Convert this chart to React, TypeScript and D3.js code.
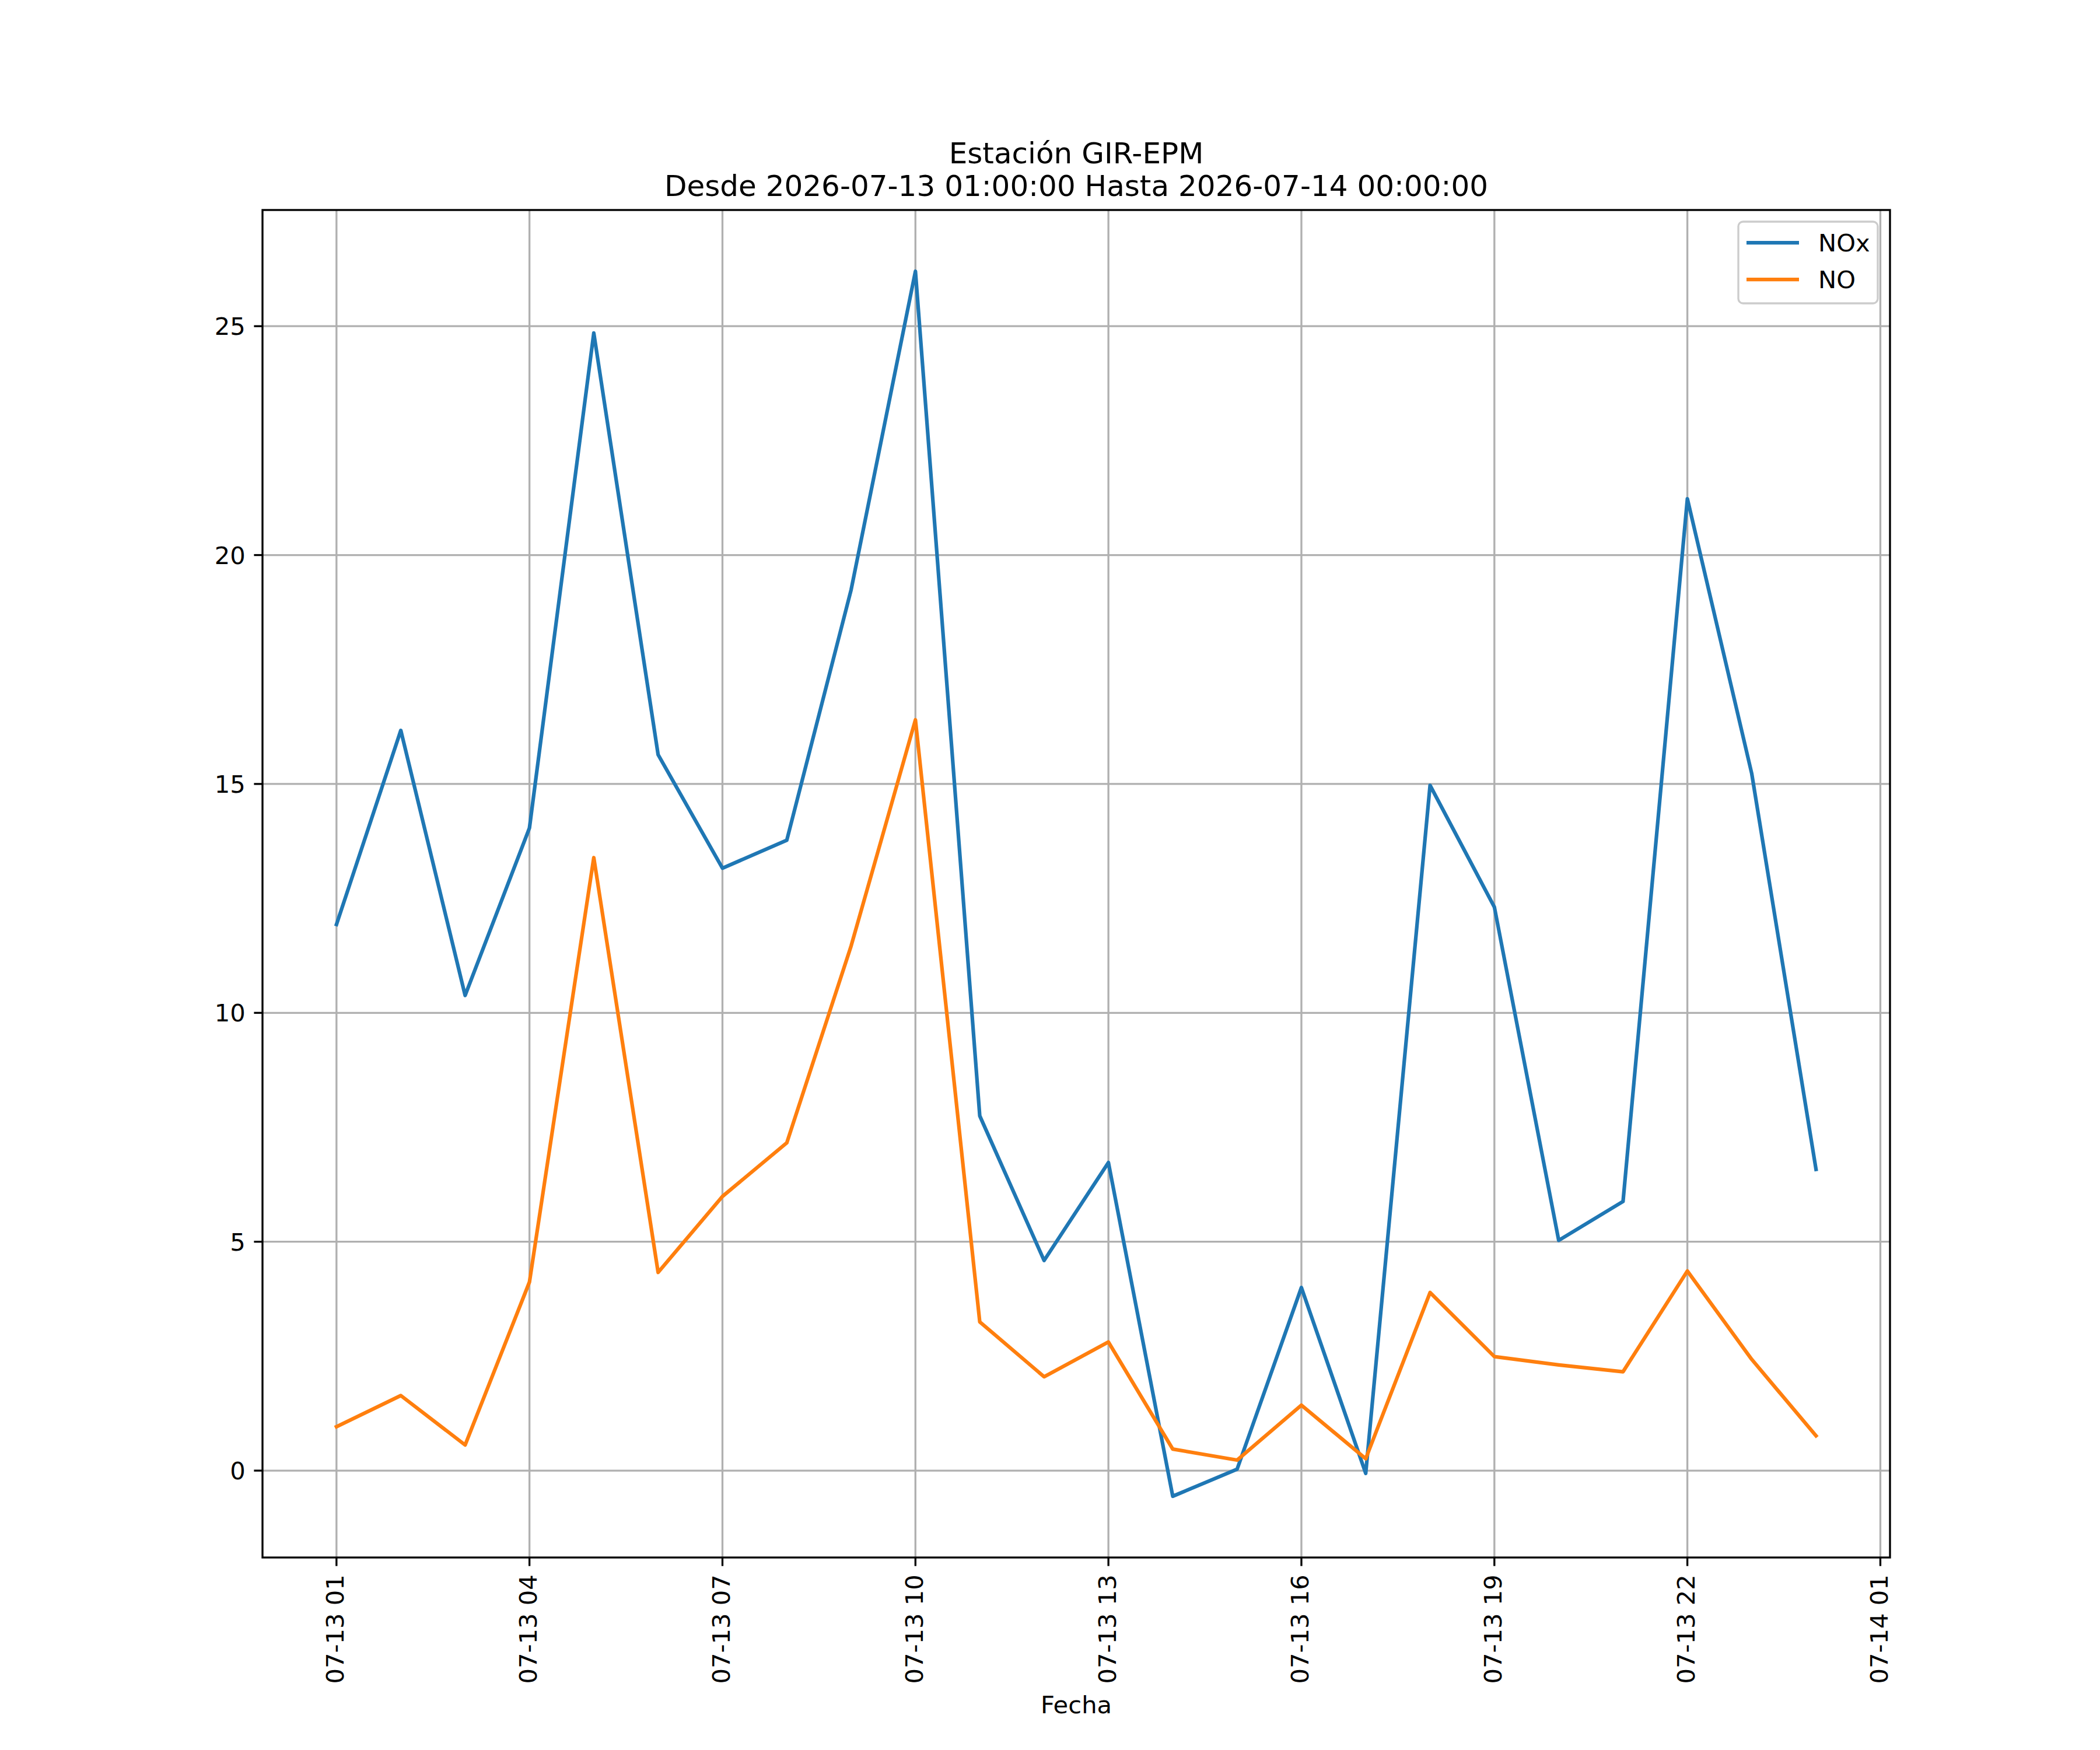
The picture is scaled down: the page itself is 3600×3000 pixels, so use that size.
import React, { useEffect, useRef } from 'react';
import * as d3 from 'd3';

// hourly readings, 2026-07-13 01:00 .. 2026-07-14 00:00
const hours = d3.range(1, 25).map(h => new Date(Date.UTC(2026, 6, 13, h)));
const noxValues = [
  11.93, 16.17, 10.38, 14.04, 24.85, 15.64, 13.16, 13.77, 19.24, 26.2, 7.75, 4.59,
  6.73, -0.56, 0.03, 4.0, -0.06, 14.97, 12.31, 5.03, 5.88, 21.23, 15.23, 6.58,
];
const noValues = [
  0.96, 1.64, 0.56, 4.12, 13.39, 4.33, 5.99, 7.16, 11.46, 16.4, 3.25, 2.05,
  2.81, 0.47, 0.23, 1.43, 0.26, 3.89, 2.49, 2.31, 2.16, 4.36, 2.43, 0.76,
];
const seriesNames = ['NOx', 'NO'];
const seriesColors = ['#1f77b4', '#ff7f0e'];
const yTickValues = [0, 5, 10, 15, 20, 25];
const xTickValues = d3.range(1, 26, 3).map(h => new Date(Date.UTC(2026, 6, 13, h)));
const titleLines = ['Estación GIR-EPM', 'Desde 2026-07-13 01:00:00 Hasta 2026-07-14 00:00:00'];
const xLabel = 'Fecha';

const W = 3600;
const H = 3000;
const FONT = 'DejaVu Sans, sans-serif';
const fs = 41.67;

const App: React.FC = () => {
  const svgRef = useRef<SVGSVGElement>(null);

  useEffect(() => {
    if (!svgRef.current) return;
    const svg = d3.select(svgRef.current);
    svg.selectAll('*').remove();

    const margin = { left: 450, right: 3240, top: 360, bottom: 2670 };

    const series = [noxValues, noValues].map((vals, i) => ({
      name: seriesNames[i],
      color: seriesColors[i],
      points: vals.map((v, j) => ({ time: hours[j], value: v })),
    }));

    // matplotlib style 5% margins
    const tExt = d3.extent(hours) as [Date, Date];
    const tPad = (+tExt[1] - +tExt[0]) * 0.05;
    const all = noxValues.concat(noValues);
    const yMin = d3.min(all) as number;
    const yMax = d3.max(all) as number;
    const yPad = (yMax - yMin) * 0.05;

    const x = d3
      .scaleUtc()
      .domain([new Date(+tExt[0] - tPad), new Date(+tExt[1] + tPad)])
      .range([margin.left, margin.right]);

    const y = d3
      .scaleLinear()
      .domain([yMin - yPad, yMax + yPad])
      .range([margin.bottom, margin.top]);

    const fmt = d3.utcFormat('%m-%d %H');

    // grid lines
    svg.selectAll('.x-grid')
      .data(xTickValues)
      .enter()
      .append('line')
      .attr('x1', d => x(d))
      .attr('x2', d => x(d))
      .attr('y1', margin.top)
      .attr('y2', margin.bottom)
      .attr('stroke', '#b0b0b0')
      .attr('stroke-width', 3.33);

    svg.selectAll('.y-grid')
      .data(yTickValues)
      .enter()
      .append('line')
      .attr('x1', margin.left)
      .attr('x2', margin.right)
      .attr('y1', d => y(d))
      .attr('y2', d => y(d))
      .attr('stroke', '#b0b0b0')
      .attr('stroke-width', 3.33);

    // series lines
    const line = d3
      .line<{ time: Date; value: number }>()
      .x(d => x(d.time))
      .y(d => y(d.value));

    series.forEach(s => {
      svg.append('path')
        .datum(s.points)
        .attr('d', line)
        .attr('fill', 'none')
        .attr('stroke', s.color)
        .attr('stroke-width', 6.25)
        .attr('stroke-linejoin', 'round')
        .attr('stroke-linecap', 'square');
    });

    // spines
    svg.append('rect')
      .attr('x', margin.left)
      .attr('y', margin.top)
      .attr('width', margin.right - margin.left)
      .attr('height', margin.bottom - margin.top)
      .attr('fill', 'none')
      .attr('stroke', 'black')
      .attr('stroke-width', 3.33);

    // x axis ticks + labels
    const xAxis = svg.append('g');
    xAxis.selectAll('line')
      .data(xTickValues)
      .enter()
      .append('line')
      .attr('x1', d => x(d))
      .attr('x2', d => x(d))
      .attr('y1', margin.bottom)
      .attr('y2', margin.bottom + 14.6)
      .attr('stroke', 'black')
      .attr('stroke-width', 3.33);
    xAxis.selectAll('text')
      .data(xTickValues)
      .enter()
      .append('text')
      .attr('transform', d => `translate(${x(d)},${margin.bottom + 29.2}) rotate(-90)`)
      .attr('text-anchor', 'end')
      .attr('dy', '0.3em')
      .style('font-family', FONT)
      .style('font-size', `${fs}px`)
      .text(d => fmt(d));

    // y axis ticks + labels
    const yAxis = svg.append('g');
    yAxis.selectAll('line')
      .data(yTickValues)
      .enter()
      .append('line')
      .attr('x1', margin.left - 14.6)
      .attr('x2', margin.left)
      .attr('y1', d => y(d))
      .attr('y2', d => y(d))
      .attr('stroke', 'black')
      .attr('stroke-width', 3.33);
    yAxis.selectAll('text')
      .data(yTickValues)
      .enter()
      .append('text')
      .attr('x', margin.left - 29.2)
      .attr('y', d => y(d))
      .attr('dy', '0.36em')
      .attr('text-anchor', 'end')
      .style('font-family', FONT)
      .style('font-size', `${fs}px`)
      .text(d => d3.format('d')(d));

    // x label
    svg.append('text')
      .attr('x', (margin.left + margin.right) / 2)
      .attr('y', 2937)
      .attr('text-anchor', 'middle')
      .style('font-family', FONT)
      .style('font-size', `${fs}px`)
      .text(xLabel);

    // title
    titleLines.forEach((t, i) => {
      svg.append('text')
        .attr('x', (margin.left + margin.right) / 2)
        .attr('y', 280 + i * 56)
        .attr('text-anchor', 'middle')
        .style('font-family', FONT)
        .style('font-size', '50px')
        .text(t);
    });

    // legend
    const legend = svg.append('g');
    legend.append('rect')
      .attr('x', 2980)
      .attr('y', 380)
      .attr('width', 239)
      .attr('height', 140)
      .attr('rx', 8)
      .attr('fill', 'white')
      .attr('fill-opacity', 0.8)
      .attr('stroke', '#cccccc')
      .attr('stroke-width', 3.33);
    series.forEach((s, i) => {
      const ly = 416 + i * 63;
      legend.append('line')
        .attr('x1', 2994)
        .attr('x2', 3084)
        .attr('y1', ly)
        .attr('y2', ly)
        .attr('stroke', s.color)
        .attr('stroke-width', 6.25);
      legend.append('text')
        .attr('x', 3117)
        .attr('y', ly + 14.5)
        .style('font-family', FONT)
        .style('font-size', `${fs}px`)
        .text(s.name);
    });
  }, []);

  return (
    <svg
      ref={svgRef}
      width={W}
      height={H}
      style={{ position: 'absolute', left: 0, top: 0, background: 'white' }}
    />
  );
};

export default App;
